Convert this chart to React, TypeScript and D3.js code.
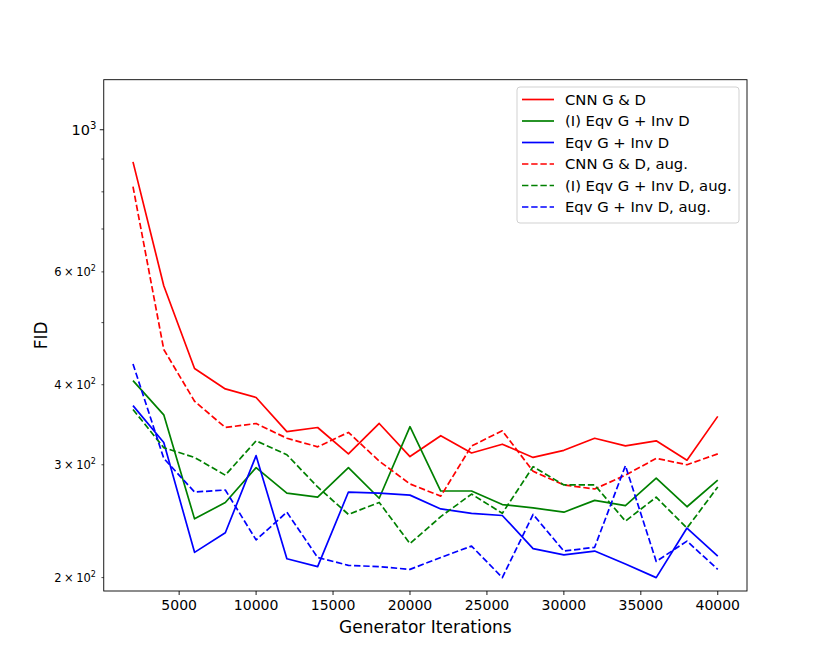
import React from 'react'
import {scaleLinear, scaleLog, line} from 'd3'

const iterations = [2000, 4000, 6000, 8000, 10000, 12000, 14000, 16000, 18000, 20000,
  22000, 24000, 26000, 28000, 30000, 32000, 34000, 36000, 38000, 40000]

const cnn = [891, 571, 424, 394, 382, 338, 343, 312, 348, 309, 333, 313, 323, 308, 316, 330, 321, 327, 305, 357]
const iEqv = [406, 359, 247, 262, 297, 271, 267, 297, 266, 344, 273, 273, 260, 257, 253, 264, 259, 286, 258, 284]
const eqv = [371, 325, 219, 235, 310, 214, 208, 272, 271, 269, 256, 252, 250, 222, 217, 220, 210, 200, 239, 216]
const cnnAug = [815, 454, 377, 343, 348, 330, 320, 337, 304, 280, 268, 321, 339, 293, 279, 275, 289, 307, 300, 312]
const iEqvAug = [366, 319, 308, 289, 327, 311, 277, 251, 262, 226, 249, 270, 252, 298, 279, 279, 245, 267, 239, 277]
const eqvAug = [431, 307, 272, 274, 229, 253, 215, 209, 208, 206, 215, 224, 200, 251, 220, 223, 299, 212, 228, 206]

const series = [
  {name: 'CNN G & D', values: cnn, color: 'red', dash: ''},
  {name: '(I) Eqv G + Inv D', values: iEqv, color: 'green', dash: ''},
  {name: 'Eqv G + Inv D', values: eqv, color: 'blue', dash: ''},
  {name: 'CNN G & D, aug.', values: cnnAug, color: 'red', dash: '6.4,2.8'},
  {name: '(I) Eqv G + Inv D, aug.', values: iEqvAug, color: 'green', dash: '6.4,2.8'},
  {name: 'Eqv G + Inv D, aug.', values: eqvAug, color: 'blue', dash: '6.4,2.8'},
]

const xTicks = [5000, 10000, 15000, 20000, 25000, 30000, 35000, 40000]
const yMinor = [200, 300, 400, 500, 600, 700, 800, 900]
const yMinorLabels = [200, 300, 400, 600]

const W = 830, H = 664
const left = 103.75, right = 747, top = 79.7, bottom = 591

function App() {
  const x = scaleLinear().domain([100, 41900]).range([left, right])
  const y = scaleLog().domain([190.6, 1197]).range([bottom, top])
  const gen = line<number>().x((d, i) => x(iterations[i])).y(d => y(d))
  const font = 'DejaVu Sans, sans-serif'

  return (
    <svg width={W} height={H} style={{position: 'absolute', left: 0, top: 0}} fontFamily={font}>
      <rect width={W} height={H} fill="white" />
      <defs>
        <clipPath id="plot"><rect x={left} y={top} width={right - left} height={bottom - top} /></clipPath>
      </defs>
      <g clipPath="url(#plot)">
        {series.map(s => (
          <path key={s.name} d={gen(s.values) || ''} fill="none" stroke={s.color}
            strokeWidth={1.7} strokeDasharray={s.dash} strokeLinejoin="round" />
        ))}
      </g>
      <rect x={left} y={top} width={right - left} height={bottom - top} fill="none" stroke="black" strokeWidth={0.9} />
      {xTicks.map(t => (
        <g key={t} transform={`translate(${x(t)},${bottom})`}>
          <line y2={4} stroke="black" strokeWidth={0.9} />
          <text y={19} textAnchor="middle" fontSize={14}>{t}</text>
        </g>
      ))}
      <g transform={`translate(${left},${y(1000)})`}>
        <line x2={-4} stroke="black" strokeWidth={0.9} />
        <text x={-7.5} y={5} textAnchor="end" fontSize={14.5}>10<tspan dy={-6} fontSize={10}>3</tspan></text>
      </g>
      {yMinor.map(t => (
        <g key={t} transform={`translate(${left},${y(t)})`}>
          <line x2={-2.3} stroke="black" strokeWidth={0.7} />
          {yMinorLabels.includes(t) && (
            <text x={-49.5} y={4} fontSize={11.5}>
              <tspan>{t / 100}</tspan>
              <tspan dx={2.5}>×</tspan>
              <tspan dx={2.5}>10</tspan>
              <tspan dy={-5} fontSize={8}>2</tspan>
            </text>
          )}
        </g>
      ))}
      <text x={(left + right) / 2} y={633} textAnchor="middle" fontSize={17}>Generator Iterations</text>
      <text transform={`translate(47,${(top + bottom) / 2}) rotate(-90)`} textAnchor="middle" fontSize={17}>FID</text>
      <g transform="translate(517,87)">
        <rect width={222} height={136} rx={3} fill="white" fillOpacity={0.8} stroke="#cccccc" strokeWidth={0.9} />
        {series.map((s, i) => (
          <g key={s.name} transform={`translate(0,${12.5 + i * 21.5})`}>
            <line x1={5} x2={37} stroke={s.color} strokeWidth={1.7} strokeDasharray={s.dash} />
            <text x={48} y={5.2} fontSize={14.8}>{s.name}</text>
          </g>
        ))}
      </g>
    </svg>
  )
}

export default App
